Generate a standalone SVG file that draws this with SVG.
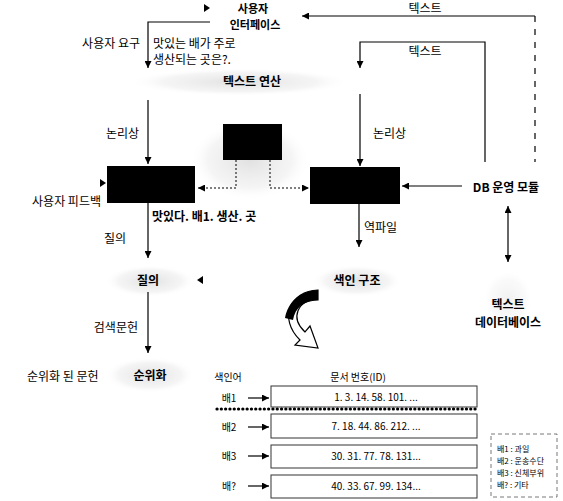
<svg xmlns="http://www.w3.org/2000/svg" width="563" height="501" viewBox="0 0 563 501">
<style>
text{font-family:"Noto Sans CJK KR","Noto Sans",sans-serif;fill:#000}
.t{font-size:12px}
.b{font-size:12px;font-weight:bold}
.u{font-size:11px;font-weight:bold}
.s{font-size:10px}
.xs{font-size:8px}
.ln{fill:none;stroke:#000;stroke-width:1.2}
.dot{fill:none;stroke:#000;stroke-width:1;stroke-dasharray:2 2}
.row{fill:#fff;stroke:#333;stroke-width:1}
</style>
<defs>
<marker id="arr" viewBox="0 0 10 10" refX="10" refY="5" markerWidth="7" markerHeight="7" markerUnits="userSpaceOnUse" orient="auto-start-reverse"><path d="M0,0 L10,5 L0,10 z" fill="#000"/></marker>
<radialGradient id="shade"><stop offset="0" stop-color="#d4d4d4" stop-opacity="0.7"/><stop offset="0.7" stop-color="#e8e8e8" stop-opacity="0.45"/><stop offset="1" stop-color="#fff" stop-opacity="0"/></radialGradient>
</defs>

<g id="shading">
<ellipse cx="240" cy="82" rx="110" ry="14" fill="url(#shade)"/>
<ellipse cx="250" cy="160" rx="60" ry="40" fill="url(#shade)"/>
<ellipse cx="150" cy="281" rx="45" ry="16" fill="url(#shade)"/>
<ellipse cx="150" cy="375" rx="45" ry="18" fill="url(#shade)"/>
<ellipse cx="357" cy="281" rx="45" ry="16" fill="url(#shade)"/>
<ellipse cx="508" cy="300" rx="25" ry="30" fill="url(#shade)" opacity="0.5"/>
</g>

<g id="connectors">
<path class="ln" d="M535 16 L302 16" marker-end="url(#arr)"/>
<path class="ln" d="M535 16 L535 162" stroke-dasharray="6 7" stroke="#555"/>
<path class="ln" d="M210 22 L148 22 L148 68" marker-end="url(#arr)"/>
<path class="ln" d="M148 100 L148 164" marker-end="url(#arr)"/>
<path class="ln" d="M485 162 L485 42 L360 42 L360 68" marker-end="url(#arr)"/>
<path class="ln" d="M360 94 L360 166" marker-end="url(#arr)"/>
<path class="ln" d="M462 186 L402 186" marker-end="url(#arr)"/>
<path class="dot" d="M236 160 L236 188 L198 188" marker-end="url(#arr)"/>
<path class="dot" d="M270 160 L270 188 L309 188" marker-end="url(#arr)"/>
<path class="ln" d="M148 203 L148 258" marker-end="url(#arr)"/>
<path class="ln" d="M148 292 L148 353" marker-end="url(#arr)"/>
<path class="ln" d="M359 204 L359 247" marker-end="url(#arr)"/>
<path class="ln" d="M508 206 L508 262" marker-start="url(#arr)" marker-end="url(#arr)"/>
<polygon points="100,179 106,183 100,187" fill="#000"/>
<polygon points="203,276 197,280 203,284" fill="#000"/>
<polygon points="204,4 210,8 204,12" fill="#000"/>
<path class="ln" d="M248 398 L269 398" marker-end="url(#arr)"/>
<path class="ln" d="M248 427 L269 427" marker-end="url(#arr)"/>
<path class="ln" d="M248 456 L269 456" marker-end="url(#arr)"/>
<path class="ln" d="M248 486 L269 486" marker-end="url(#arr)"/>
</g>

<g id="ui">
<text class="u" x="253" y="13" text-anchor="middle">사용자</text>
<text class="u" x="255" y="29" text-anchor="middle">인터페이스</text>
</g>
<g id="labels">
<text class="t" x="140" y="48" text-anchor="end">사용자 요구</text>
<text class="t" x="153" y="48">맛있는 배가 주로</text>
<text class="t" x="153" y="64">생산되는 곳은?.</text>
<text class="t" x="425" y="13" text-anchor="middle">텍스트</text>
<text class="t" x="425" y="56" text-anchor="middle">텍스트</text>
<text class="t" x="139" y="138" text-anchor="end">논리상</text>
<text class="t" x="373" y="138">논리상</text>
<text class="t" x="101" y="206" text-anchor="end">사용자 피드백</text>
<text class="b" x="152" y="221">맛있다. 배1. 생산. 곳</text>
<text class="t" x="126" y="243" text-anchor="end">질의</text>
<text class="t" x="364" y="232">역파일</text>
<text class="t" x="138" y="332" text-anchor="end">검색문헌</text>
<text class="t" x="27" y="381">순위화 된 문헌</text>
</g>
<g id="textop"><text class="b" x="252" y="86" text-anchor="middle">텍스트 연산</text></g>
<g id="box-left"><rect x="107" y="166" width="88" height="37" fill="#000"/></g>
<g id="box-center"><rect x="223" y="124" width="59" height="36" fill="#000"/></g>
<g id="box-right"><rect x="310" y="167" width="90" height="37" fill="#000"/></g>
<g id="db-module"><text class="b" x="506" y="192" text-anchor="middle">DB 운영 모듈</text></g>
<g id="text-db">
<text class="b" x="508" y="309" text-anchor="middle">텍스트</text>
<text class="b" x="508" y="327" text-anchor="middle">데이터베이스</text>
</g>
<g id="query"><text class="b" x="148" y="285" text-anchor="middle">질의</text></g>
<g id="rank"><text class="b" x="150" y="380" text-anchor="middle">순위화</text></g>
<g id="index"><text class="b" x="357" y="285" text-anchor="middle">색인 구조</text></g>

<g id="curved-arrow">
<path d="M318 290 C290 291 278 318 300 340 L295 345 L318 348 L310 326 L305 332 C290 318 297 300 318 300 Z" fill="#fff" stroke="#000" stroke-width="1.2"/>
<path d="M318 290 C300 291 288 302 285 318 L293 320 C295 308 304 300 318 300 Z" fill="#000"/>
</g>

<g id="index-table">
<text class="s" x="228" y="381" text-anchor="middle">색인어</text>
<text class="s" x="358" y="381" text-anchor="middle">문서 번호(ID)</text>
<rect class="row" x="271" y="386" width="206" height="21"/>
<rect class="row" x="271" y="414" width="206" height="24"/>
<rect class="row" x="271" y="445" width="206" height="23"/>
<rect class="row" x="271" y="475" width="206" height="23"/>
<path d="M217 409 L477 409" fill="none" stroke="#000" stroke-width="3.2" stroke-linecap="round" stroke-dasharray="0.1 4.2"/>
<text class="s" x="229" y="402" text-anchor="middle">배1</text>
<text class="s" x="229" y="431" text-anchor="middle">배2</text>
<text class="s" x="229" y="460" text-anchor="middle">배3</text>
<text class="s" x="229" y="490" text-anchor="middle">배?</text>
<text class="s" x="376" y="401" text-anchor="middle">1. 3. 14. 58. 101. ...</text>
<text class="s" x="376" y="430" text-anchor="middle">7. 18. 44. 86. 212. ...</text>
<text class="s" x="376" y="460" text-anchor="middle">30. 31. 77. 78. 131...</text>
<text class="s" x="376" y="490" text-anchor="middle">40. 33. 67. 99. 134...</text>
</g>

<g id="legend">
<rect x="491" y="434" width="66" height="63" fill="#fff" stroke="#555" stroke-width="0.8" stroke-dasharray="4 3"/>
<text class="xs" x="497" y="452">배1 : 과일</text>
<text class="xs" x="497" y="464">배2 : 운송수단</text>
<text class="xs" x="497" y="476">배3 : 신체부위</text>
<text class="xs" x="497" y="488">배? : 기타</text>
</g>
</svg>
